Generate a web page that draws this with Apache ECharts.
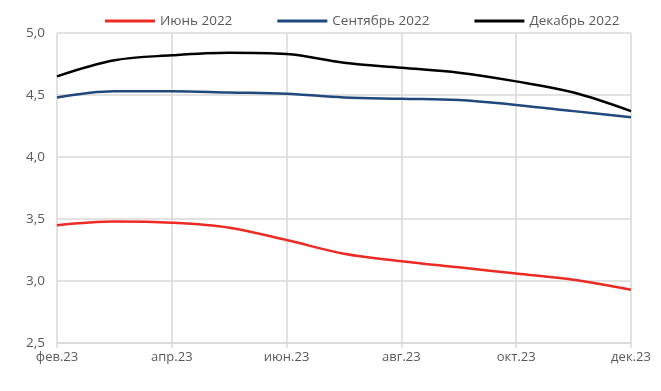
<!DOCTYPE html>
<html><head><meta charset="utf-8">
<script src="https://cdn.jsdelivr.net/npm/echarts@6/dist/echarts.min.js"></script>
<style>html,body{margin:0;padding:0;background:#fff}#c{width:661px;height:391px}</style>
</head><body><div id="c"></div>
<script>
const categories = ['фев.23','мар.23','апр.23','май.23','июн.23','июл.23','авг.23','сен.23','окт.23','ноя.23','дек.23'];
const june2022 = [3.45, 3.48, 3.47, 3.43, 3.33, 3.22, 3.16, 3.11, 3.06, 3.01, 2.93];
const sep2022  = [4.48, 4.53, 4.53, 4.52, 4.51, 4.48, 4.47, 4.46, 4.42, 4.37, 4.32];
const dec2022  = [4.65, 4.78, 4.82, 4.84, 4.83, 4.76, 4.72, 4.68, 4.61, 4.52, 4.37];
const names = ['Июнь 2022','Сентябрь 2022','Декабрь 2022'];
const colors = ['#ee2a24','#1f497d','#000000'];

const chart = echarts.init(document.getElementById('c'));
const font = 'Open Sans';
chart.setOption({
  animation:false,
  color: colors,
  textStyle:{fontFamily:font},
  legend:{
    top:9, left:100, itemWidth:50, itemHeight:3, itemGap:45,
    icon:'rect',
    textStyle:{color:'#595959', fontSize:13.5, fontFamily:font},
    data:names
  },
  grid:{left:57, right:30, top:33, bottom:48},
  xAxis:{
    type:'category', data:categories, boundaryGap:false,
    axisLine:{lineStyle:{color:'#d9d9d9', width:1.5}},
    axisTick:{show:true, interval:1, length:5, lineStyle:{color:'#d9d9d9', width:1.5}},
    axisLabel:{interval:1, color:'#595959', fontSize:13, margin:8, fontFamily:font},
    splitLine:{show:true, interval:1, lineStyle:{color:'#d9d9d9', width:1.5}}
  },
  yAxis:{
    type:'value', min:2.5, max:5.0, interval:0.5,
    axisLine:{show:false}, axisTick:{show:false},
    axisLabel:{color:'#595959', fontSize:13.5, margin:12, fontFamily:font,
      formatter:v=>v.toFixed(1).replace('.',',')},
    splitLine:{lineStyle:{color:'#d9d9d9', width:1.5}}
  },
  series:[june2022, sep2022, dec2022].map((d,i)=>({
    name:names[i], type:'line', data:d, smooth:0.35, showSymbol:false,
    lineStyle:{width:2.5, color:colors[i]}
  }))
});
</script></body></html>
